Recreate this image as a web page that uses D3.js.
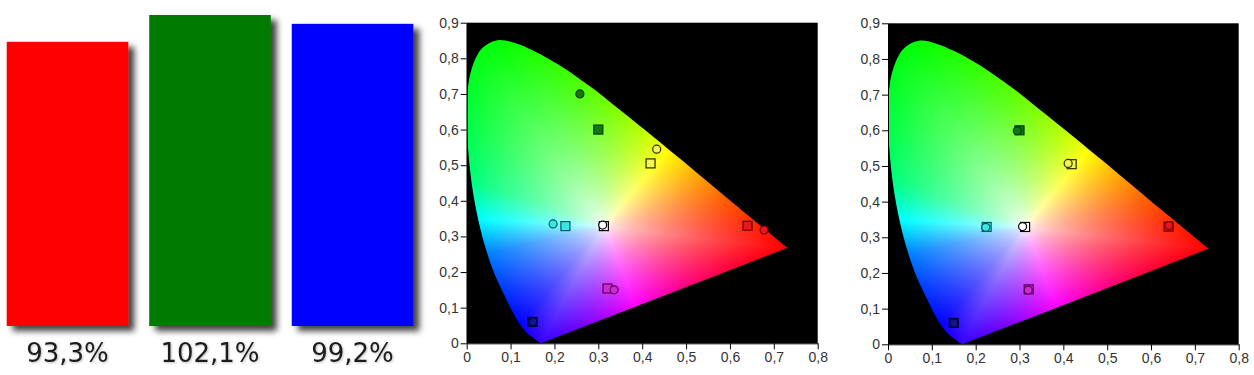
<!DOCTYPE html>
<html>
<head>
<meta charset="utf-8">
<script src="https://cdn.jsdelivr.net/npm/d3@7"></script>
<style>
  body { margin: 0; background: #fff; }
  svg { display: block; }
  .tick text { font-family: "Liberation Sans Narrow", "Liberation Sans", Arial, sans-serif; font-size: 14px; fill: #333; }
</style>
</head>
<body>
<script>
// ---- bar panel data
var channels = ["R", "G", "B"];
var channelValues = [93.3, 102.1, 99.2];
var channelLabels = ["93,3%", "102,1%", "99,2%"];
var channelColors = ["#ff0000", "#007a00", "#0000ff"];

// ---- chromaticity diagram outline (x, y)
var locusX = [0.169, 0.165, 0.160, 0.153, 0.140, 0.120, 0.106, 0.087, 0.061, 0.036, 0.015, 0.003, 0.000, 0.010, 0.035, 0.070,
              0.110, 0.151, 0.189, 0.226, 0.262, 0.298, 0.333, 0.369, 0.405, 0.440, 0.475, 0.509, 0.541, 0.571, 0.599,
              0.623, 0.662, 0.688, 0.704, 0.715, 0.726, 0.731];
var locusY = [0.000, 0.003, 0.007, 0.014, 0.026, 0.055, 0.085, 0.132, 0.202, 0.298, 0.419, 0.548, 0.667, 0.765, 0.828, 0.851,
              0.843, 0.822, 0.797, 0.769, 0.738, 0.706, 0.671, 0.636, 0.600, 0.565, 0.529, 0.495, 0.462, 0.431, 0.402,
              0.378, 0.338, 0.312, 0.295, 0.284, 0.273, 0.268];
var whitePoint = [0.3127, 0.329];

var xTicks = [0, 0.1, 0.2, 0.3, 0.4, 0.5, 0.6, 0.7, 0.8];
var yTicks = [0, 0.1, 0.2, 0.3, 0.4, 0.5, 0.6, 0.7, 0.8, 0.9];

// ---- points: targets (squares) and measurements (circles)
var pointNames = ["R", "G", "B", "C", "M", "Y", "W"];
var targetX = [0.640, 0.300, 0.150, 0.225, 0.321, 0.419, 0.3127];
var targetY = [0.330, 0.600, 0.060, 0.329, 0.154, 0.505, 0.329];
var meas1X = [0.678, 0.258, 0.151, 0.197, 0.336, 0.433, 0.310];
var meas1Y = [0.318, 0.700, 0.061, 0.335, 0.150, 0.545, 0.332];
var meas2X = [0.641, 0.295, 0.150, 0.223, 0.320, 0.411, 0.307];
var meas2Y = [0.333, 0.599, 0.060, 0.328, 0.152, 0.507, 0.330];

var markerFill = { R: "#e8141e", G: "#107a10", B: "#14148c", C: "#3ce6e6", M: "#d22ad2", Y: "#f5f550", W: "#ffffff" };
var markerStroke = { R: "#6e0000", G: "#063806", B: "#000040", C: "#005a5a", M: "#5a005a", Y: "#2a2a00", W: "#000000" };

// hue by angle around the white point
var hueAngles = [-8, 56, 115, 157, 176, 196, 235, 288, 352];
var hueValues = [0, 60, 120, 150, 180, 210, 240, 300, 360];
var satPower = 0.7;

var W = 1254, H = 375;
var svg = d3.select("body").append("svg").attr("width", W).attr("height", H);
var defs = svg.append("defs");

var shadow = defs.append("filter").attr("id", "shadow")
    .attr("x", "-10%").attr("y", "-10%").attr("width", "130%").attr("height", "130%");
shadow.append("feDropShadow").attr("dx", 6).attr("dy", 5).attr("stdDeviation", 3)
    .attr("flood-color", "#000").attr("flood-opacity", 0.75);

var textShadow = defs.append("filter").attr("id", "tshadow");
textShadow.append("feDropShadow").attr("dx", 1).attr("dy", 1).attr("stdDeviation", 1)
    .attr("flood-color", "#000").attr("flood-opacity", 0.25);

// ---------- bars
var bx = d3.scaleBand().domain(channels).range([6.7, 413.3]).paddingInner(0.147).paddingOuter(0);
var by = d3.scaleLinear().domain([0, 100]).range([326, 21.4]);

var barG = svg.append("g");
barG.selectAll("rect").data(channels).enter().append("rect")
    .attr("x", function (d) { return bx(d); })
    .attr("width", bx.bandwidth())
    .attr("y", function (d, i) { return by(channelValues[i]); })
    .attr("height", function (d, i) { return by(0) - by(channelValues[i]); })
    .attr("fill", function (d, i) { return channelColors[i]; })
    .attr("filter", "url(#shadow)");

barG.selectAll("text").data(channels).enter().append("text")
    .attr("x", function (d) { return bx(d) + bx.bandwidth() / 2; })
    .attr("y", 362)
    .attr("text-anchor", "middle")
    .attr("font-family", "DejaVu Sans, Verdana, sans-serif")
    .attr("font-size", 26)
    .attr("fill", "#1e1e1e")
    .attr("filter", "url(#tshadow)")
    .text(function (d, i) { return channelLabels[i]; });

// ---------- gamut diagrams
var fmt = d3.formatLocale({ decimal: ",", thousands: " ", grouping: [3], currency: ["", ""] }).format(".1~f");
var hueScale = d3.scaleLinear().domain(hueAngles).range(hueValues);

function drawGamut(id, x0, x1, yTop, yBot, measX, measY) {
    var x = d3.scaleLinear().domain([0, 0.8]).range([x0, x1]);
    var y = d3.scaleLinear().domain([0, 0.9]).range([yBot, yTop]);
    var g = svg.append("g");

    g.append("rect").attr("x", x0).attr("y", yTop).attr("width", x1 - x0).attr("height", yBot - yTop).attr("fill", "#000");

    var line = d3.line()
        .x(function (i) { return x(locusX[i]); })
        .y(function (i) { return y(locusY[i]); })
        .curve(d3.curveCatmullRom);
    var dPath = line(d3.range(locusX.length)) + "Z";

    var clip = defs.append("clipPath").attr("id", "clip" + id);
    var pathEl = clip.append("path").attr("d", dPath).node();

    // sample the outline back into data space
    var len = pathEl.getTotalLength();
    var poly = [];
    for (var l = 0; l <= len; l += 1) {
        var p = pathEl.getPointAtLength(l);
        poly.push([x.invert(p.x), y.invert(p.y)]);
    }

    var wx = whitePoint[0], wy = whitePoint[1];
    var nb = 1440;
    var bound = new Float64Array(nb);
    for (var k = 0; k < nb; k++) {
        var a = (k / nb) * 2 * Math.PI;
        var ux = Math.cos(a), uy = Math.sin(a), best = 0;
        for (var s = 0; s < poly.length; s++) {
            var pA = poly[s], pB = poly[(s + 1) % poly.length];
            var ex = pB[0] - pA[0], ey = pB[1] - pA[1];
            var den = ux * ey - uy * ex;
            if (Math.abs(den) < 1e-12) continue;
            var qx = pA[0] - wx, qy = pA[1] - wy;
            var t = (qx * ey - qy * ex) / den;
            var u = (qx * uy - qy * ux) / den;
            if (t > 0 && u >= 0 && u <= 1 && (best === 0 || t < best)) best = t;
        }
        bound[k] = best || 0.3;
    }

    var cw = Math.round(x1 - x0), ch = Math.round(yBot - yTop);
    var canvas = document.createElement("canvas");
    canvas.width = cw; canvas.height = ch;
    var ctx = canvas.getContext("2d");
    var img = ctx.createImageData(cw, ch);
    for (var j = 0; j < ch; j++) {
        var vy = y.invert(yTop + j + 0.5) - wy;
        for (var i = 0; i < cw; i++) {
            var vx = x.invert(x0 + i + 0.5) - wx;
            var ang = Math.atan2(vy, vx);
            var dist = Math.sqrt(vx * vx + vy * vy);
            var ak = ang < 0 ? ang + 2 * Math.PI : ang;
            var fk = ak / (2 * Math.PI) * nb;
            var k0 = Math.floor(fk) % nb, k1 = (k0 + 1) % nb, fr = fk - Math.floor(fk);
            var bd = bound[k0] * (1 - fr) + bound[k1] * fr;
            var sat = Math.pow(Math.min(1, dist / bd), satPower);
            var deg = ang * 180 / Math.PI;
            if (deg < -8) deg += 360;
            var c = d3.hsl(hueScale(deg), 1, 0.5).rgb();
            var o = (j * cw + i) * 4;
            img.data[o] = 255 - sat * (255 - c.r);
            img.data[o + 1] = 255 - sat * (255 - c.g);
            img.data[o + 2] = 255 - sat * (255 - c.b);
            img.data[o + 3] = 255;
        }
    }
    ctx.putImageData(img, 0, 0);

    g.append("image")
        .attr("x", x0).attr("y", yTop).attr("width", cw).attr("height", ch)
        .attr("preserveAspectRatio", "none")
        .attr("href", canvas.toDataURL())
        .attr("clip-path", "url(#clip" + id + ")");

    // axes
    var ax = g.append("g").attr("transform", "translate(0," + yBot + ")")
        .call(d3.axisBottom(x).tickValues(xTicks).tickFormat(fmt).tickSize(6).tickSizeOuter(0).tickPadding(3));
    var ay = g.append("g").attr("transform", "translate(" + x0 + ",0)")
        .call(d3.axisLeft(y).tickValues(yTicks).tickFormat(fmt).tickSize(6).tickSizeOuter(0).tickPadding(2));
    [ax, ay].forEach(function (a) {
        a.select(".domain").attr("stroke", "#000");
        a.selectAll(".tick line").attr("stroke", "#000");
    });

    // targets
    var sq = 9;
    g.selectAll("rect.target").data(pointNames).enter().append("rect").attr("class", "target")
        .attr("x", function (d, i) { return x(targetX[i]) - sq / 2; })
        .attr("y", function (d, i) { return y(targetY[i]) - sq / 2; })
        .attr("width", sq).attr("height", sq)
        .attr("fill", function (d) { return markerFill[d]; })
        .attr("stroke", function (d) { return markerStroke[d]; })
        .attr("stroke-width", 1.2);

    // measurements
    g.selectAll("circle.meas").data(pointNames).enter().append("circle").attr("class", "meas")
        .attr("cx", function (d, i) { return x(measX[i]); })
        .attr("cy", function (d, i) { return y(measY[i]); })
        .attr("r", 4)
        .attr("fill", function (d) { return markerFill[d]; })
        .attr("stroke", function (d) { return markerStroke[d]; })
        .attr("stroke-width", 1.2);
}

drawGamut("a", 466.7, 817.7, 22.7, 343.3, meas1X, meas1Y);
drawGamut("b", 888, 1238.7, 23.3, 344.3, meas2X, meas2Y);
</script>
</body>
</html>
